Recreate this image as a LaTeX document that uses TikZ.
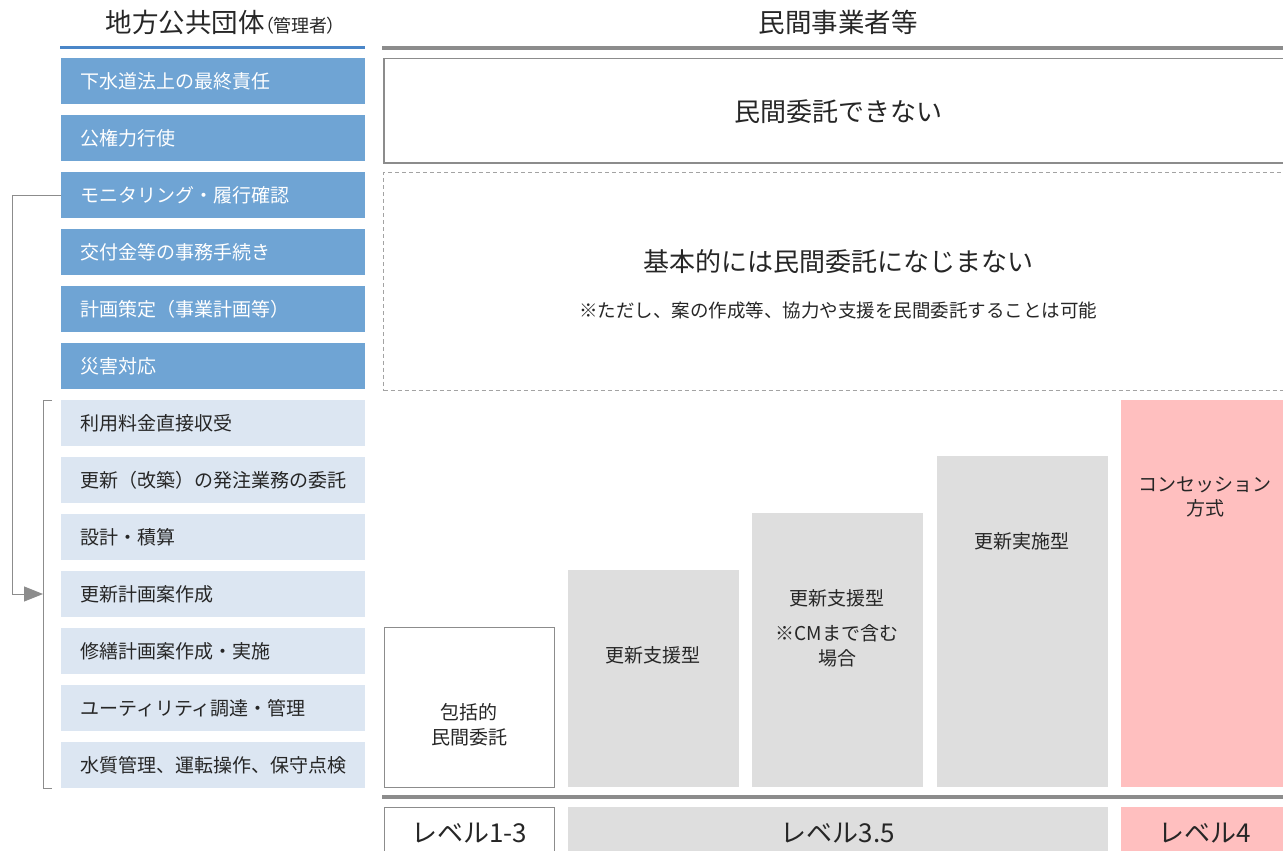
\documentclass[tikz,border=0pt]{standalone}
\usepackage{fontspec}
\setmainfont{Noto Sans CJK JP}
\usetikzlibrary{arrows.meta,calc}
\definecolor{dblue}{HTML}{6FA4D4}
\definecolor{lblue}{HTML}{DCE6F2}
\definecolor{hblue}{HTML}{4A86C8}
\definecolor{gbox}{HTML}{DEDEDE}
\definecolor{pbox}{HTML}{FFBFBF}
\definecolor{bord}{HTML}{8C8C8C}
\definecolor{txt}{HTML}{262626}
\newcommand{\fs}[1]{\fontsize{#1pt}{1.3\dimexpr#1pt\relax}\selectfont}
\begin{document}
\begin{tikzpicture}[x=1pt,y=-1pt,
  rowbox/.style={minimum height=46pt,anchor=north west,inner xsep=19pt,inner ysep=0pt,text width=266pt,align=left,font=\fs{19}},
  dkrow/.style={rowbox,fill=dblue,text=white},
  ltrow/.style={rowbox,fill=lblue,text=txt},
  col/.style={anchor=north west,inner sep=0pt},
  coltext/.style={text=txt,font=\fs{19},align=center,inner sep=0pt},
  conn/.style={draw=bord,line width=1pt},
  lvl/.style={anchor=north west,inner sep=0pt,minimum height=60pt},
  lvltext/.style={text=txt,font=\fs{26},inner sep=0pt}
]
\useasboundingbox (0,0) rectangle (1283,851);
\clip (0,0) rectangle (1283,851);

% headers
\node[text=txt,font=\fs{26.5},inner sep=0pt] (hl) at (221,22) {地方公共団体{\fs{18}\addfontfeature{RawFeature=+palt}（管理者）}};
\node[text=txt,font=\fs{26.5},inner sep=0pt] (hr) at (838,22) {民間事業者等};
\draw[hblue,line width=3pt] (60,48) -- (365,48);
\draw[bord,line width=4pt] (382,48) -- (1290,48);

% left rows
\node[dkrow] (r1) at (61,58) {下水道法上の最終責任};
\node[dkrow] (r2) at (61,115) {公権力行使};
\node[dkrow] (r3) at (61,172) {モニタリング・履行確認};
\node[dkrow] (r4) at (61,229) {交付金等の事務手続き};
\node[dkrow] (r5) at (61,286) {計画策定（事業計画等）};
\node[dkrow] (r6) at (61,343) {災害対応};
\node[ltrow] (r7) at (61,400) {利用料金直接収受};
\node[ltrow] (r8) at (61,457) {更新（改築）の発注業務の委託};
\node[ltrow] (r9) at (61,514) {設計・積算};
\node[ltrow] (r10) at (61,571) {更新計画案作成};
\node[ltrow] (r11) at (61,628) {修繕計画案作成・実施};
\node[ltrow] (r12) at (61,685) {ユーティリティ調達・管理};
\node[ltrow] (r13) at (61,742) {水質管理、運転操作、保守点検};

% bracket and connector
\draw[conn] ($(r7.north west)+(-9,0)$) -- ++(-9,0) -- ($(r13.south west)+(-18,0)$) -- ++(9,0);
\coordinate (tip) at (43,594);
\draw[conn,-{Triangle[length=19pt,width=15pt]}] (r3.west) -- ++(-49,0) |- (tip);

% top right boxes
\node[col,draw=bord,line width=1.5pt,minimum width=910pt,minimum height=104pt] (nb) at (383,58) {};
\node[text=txt,font=\fs{26},inner sep=0pt] (nbt) at (838,112) {民間委託できない};
\node[col,draw=bord!80,dashed,dash pattern=on 4pt off 3pt,line width=1pt,minimum width=910pt,minimum height=218pt] (db) at (383,172) {};
\node[text=txt,font=\fs{26},inner sep=0pt] (dbt) at (838,262) {基本的には民間委託になじまない};
\node[text=txt,font=\fs{18.5},inner sep=0pt] (dbs) at (838,310) {※ただし、案の作成等、協力や支援を民間委託することは可能};

% columns
\node[col,draw=bord,line width=1.2pt,fill=white,minimum width=170pt,minimum height=160pt] (c1) at (384,627) {};
\node[coltext] (c1t) at (469,725) {包括的\\民間委託};
\node[col,fill=gbox,minimum width=171pt,minimum height=217pt] (c2) at (568,570) {};
\node[coltext] (c2t) at (653,655) {更新支援型};
\node[col,fill=gbox,minimum width=171pt,minimum height=274pt] (c3) at (752,513) {};
\node[coltext] (c3t) at (837,598) {更新支援型};
\node[coltext] (c3s) at (837,646) {※CMまで含む\\場合};
\node[col,fill=gbox,minimum width=171pt,minimum height=331pt] (c4) at (937,456) {};
\node[coltext] (c4t) at (1022,541) {更新実施型};
\node[col,fill=pbox,minimum width=170pt,minimum height=387pt] (c5) at (1121,400) {};
\node[coltext] (c5t) at (1205,497) {コンセッション\\方式};

% bottom separator
\draw[bord,line width=4pt] (382,797) -- (1290,797);

% levels
\node[lvl,draw=bord,line width=1.2pt,fill=white,minimum width=170pt] (l1) at (384,807) {};
\node[lvltext] (l1t) at (469,833) {レベル1-3};
\node[lvl,fill=gbox,minimum width=540pt] (l2) at (568,807) {};
\node[lvltext] (l2t) at (838,833) {レベル3.5};
\node[lvl,fill=pbox,minimum width=170pt] (l3) at (1121,807) {};
\node[lvltext] (l3t) at (1205,833) {レベル4};
\end{tikzpicture}
\end{document}
